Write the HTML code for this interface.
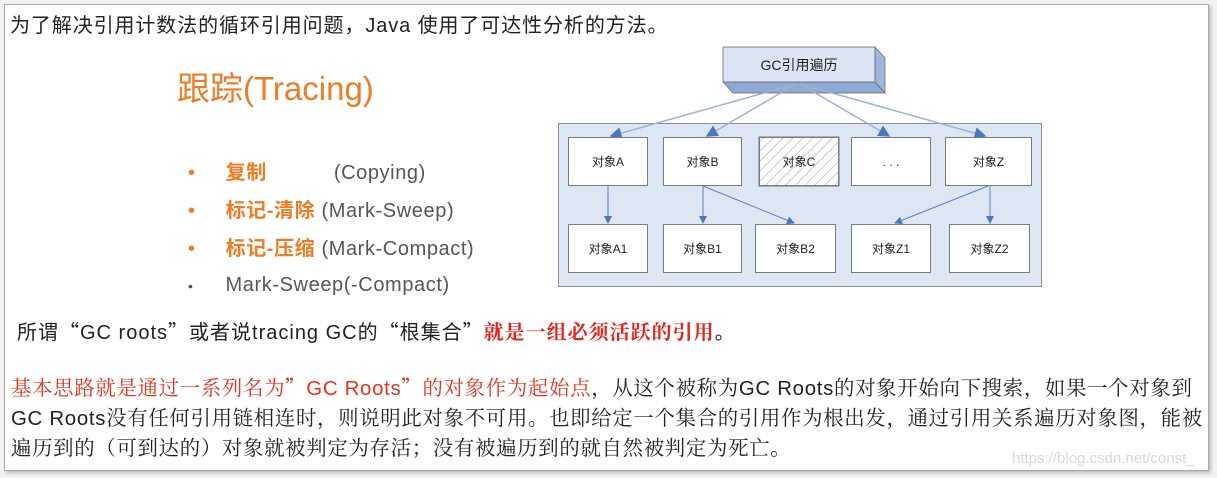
<!DOCTYPE html>
<html><head><meta charset="utf-8"><style>
body{margin:0;width:1217px;height:478px;background:#f2f2f2;position:relative;overflow:hidden;font-family:"Liberation Sans","Noto Sans CJK SC",sans-serif;}
.frame{position:absolute;left:4px;top:4px;width:1203px;height:465px;background:#fff;border:1px solid #aaa;box-shadow:2px 2px 3px #bbb;}
.t{position:absolute;white-space:nowrap;}
.b{position:absolute;background:#fff;border:1px solid #7a7a7a;font-size:12px;color:#222;display:flex;align-items:center;justify-content:center;box-sizing:border-box;}
.s{font-family:"Liberation Serif","Noto Serif CJK SC",serif;}
.q{font-family:"Noto Sans CJK SC",sans-serif;}
.or{color:#ef7b25;}
</style></head><body>
<div class="frame"></div>
<div class="t" style="left:10px;top:9px;font-size:20px;color:#222;letter-spacing:0.9px;">为了解决引用计数法的循环引用问题<span class="q">，</span>Java 使用了可达性分析的方法。</div>
<div class="t or" style="left:177px;top:62px;font-size:33px;">跟踪(Tracing)</div>
<div class="t" style="left:188px;top:154px;font-size:20px;color:#555;line-height:38px;letter-spacing:0.6px;">
<div><span class="or">•</span><span style="display:inline-block;width:30px"></span><b class="or">复制</b><span style="display:inline-block;width:67px"></span>(Copying)</div>
<div><span class="or">•</span><span style="display:inline-block;width:30px"></span><b class="or">标记-清除</b> (Mark-Sweep)</div>
<div><span class="or">•</span><span style="display:inline-block;width:30px"></span><b class="or">标记-压缩</b> (Mark-Compact)</div>
<div style="line-height:34px"><span style="font-size:14px">•</span><span style="display:inline-block;width:32px"></span>Mark-Sweep(-Compact)</div>
</div>
<div class="t" style="left:17px;top:316px;font-size:20px;color:#222;letter-spacing:1px;">所谓<span class="q">“</span>GC roots<span class="q">”</span>或者说tracing GC的<span class="q">“</span>根集合<span class="q">”</span><b class="s" style="color:#e8231c">就是一组必须活跃的引用</b>。</div>
<div class="s" style="position:absolute;left:11px;top:371px;font-size:20.4px;line-height:30px;color:#222;white-space:nowrap;letter-spacing:0.7px;">
<div><span style="color:#e8321e">基本思路就是通过一系列名为<span class="q">”</span><span style="font-family:'Liberation Sans'">GC Roots</span><span class="q">”</span>的对象作为起始点</span>，从这个被称为<span style="font-family:'Liberation Sans'">GC Roots</span>的对象开始向下搜索，如果一个对象到</div>
<div><span style="font-family:'Liberation Sans'">GC Roots</span>没有任何引用链相连时，则说明此对象不可用。也即给定一个集合的引用作为根出发，通过引用关系遍历对象图，能被</div>
<div>遍历到的（可到达的）对象就被判定为存活；没有被遍历到的就自然被判定为死亡。</div>
</div>
<div class="t" style="left:1012px;top:450px;font-size:15px;color:#d8d8d8;">https://blog.csdn.net/const_</div>
<div style="position:absolute;left:558px;top:123px;width:484px;height:164px;background:#dde6f3;border:1px solid #8a8f99;box-sizing:border-box;"></div>
<svg style="position:absolute;left:0;top:0" width="1217" height="478">
<defs><pattern id="h" width="7" height="7" patternUnits="userSpaceOnUse" patternTransform="rotate(45)"><rect width="7" height="7" fill="#fff"/><line x1="0" y1="0" x2="0" y2="7" stroke="#999" stroke-width="1"/></pattern>
<marker id="a" markerWidth="8" markerHeight="8" refX="7" refY="4" orient="auto"><path d="M0,0 L8,4 L0,8z" fill="#4a78c0"/></marker></defs>
<polygon points="723,82 875,82 885,93 733,93" fill="#8fa9d6" stroke="#666" stroke-width="0.7"/>
<polygon points="875,47 885,58 885,93 875,82" fill="#9fb6de" stroke="#666" stroke-width="0.7"/>
<rect x="723" y="47" width="152" height="35" fill="#dbe4f3" stroke="#666" stroke-width="0.8"/>
<text x="799" y="70" font-size="14" text-anchor="middle" font-family="Liberation Sans,Noto Sans CJK SC,sans-serif" fill="#222">GC引用遍历</text>
<g stroke="#9db1d2" stroke-width="1.5" fill="none" marker-end="url(#a)">
<line x1="796" y1="84" x2="611" y2="136"/><line x1="796" y1="84" x2="707" y2="136"/>
<line x1="800" y1="84" x2="889" y2="136"/><line x1="800" y1="84" x2="985" y2="136"/>
</g>
<g stroke="#5a7fbd" stroke-width="1" fill="none" marker-end="url(#a)">
<line x1="608" y1="186" x2="608" y2="223"/><line x1="703" y1="186" x2="703" y2="223"/>
<line x1="703" y1="186" x2="794" y2="223"/><line x1="988" y1="186" x2="895" y2="223"/>
<line x1="990" y1="186" x2="990" y2="223"/>
</g>
<rect x="759" y="137" width="80" height="49" fill="url(#h)" stroke="#7a7a7a"/>
</svg>
<div class="b" style="left:568px;top:137px;width:80px;height:49px;">对象A</div>
<div class="b" style="left:663px;top:137px;width:79px;height:49px;">对象B</div>
<div class="b" style="left:759px;top:137px;width:80px;height:49px;background:transparent;">对象C</div>
<div class="b" style="left:851px;top:137px;width:80px;height:49px;">. . .</div>
<div class="b" style="left:945px;top:137px;width:87px;height:49px;">对象Z</div>
<div class="b" style="left:568px;top:224px;width:80px;height:49px;">对象A1</div>
<div class="b" style="left:663px;top:224px;width:79px;height:49px;">对象B1</div>
<div class="b" style="left:755px;top:224px;width:81px;height:49px;">对象B2</div>
<div class="b" style="left:851px;top:224px;width:80px;height:49px;">对象Z1</div>
<div class="b" style="left:949px;top:224px;width:81px;height:49px;">对象Z2</div>
</body></html>
